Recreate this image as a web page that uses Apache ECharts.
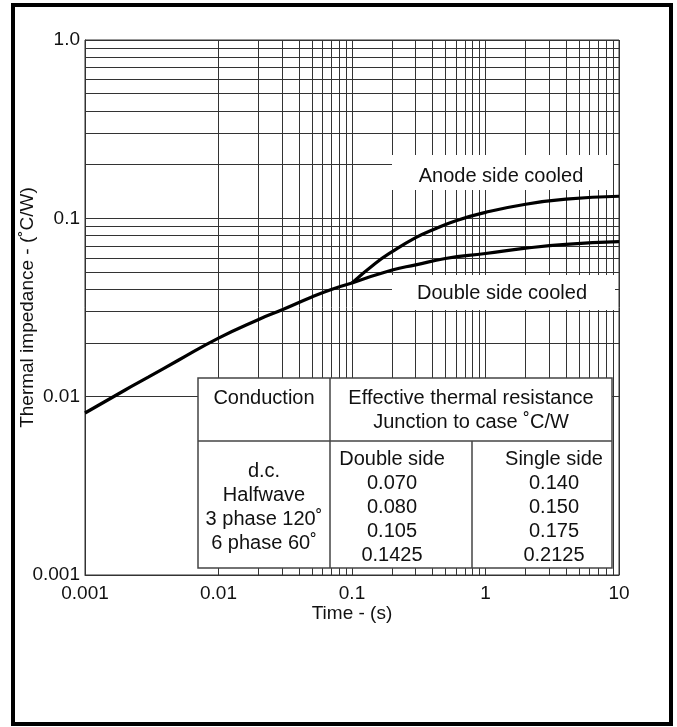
<!DOCTYPE html>
<html>
<head>
<meta charset="utf-8">
<script src="https://cdn.jsdelivr.net/npm/echarts@6/dist/echarts.min.js"></script>
<style>
  html, body { margin: 0; padding: 0; background: #fff; }
  #main { width: 677px; height: 727px; }
</style>
</head>
<body>
<div id="main"></div>
<script>
// curve below 0.1 s, shared by both cooling cases
const timeCommon = [0.001, 0.002, 0.003, 0.005, 0.01, 0.02, 0.03, 0.05, 0.07, 0.1]
const zCommon = [0.0081, 0.0109, 0.0129, 0.016, 0.0213, 0.0271, 0.0307, 0.0362, 0.0399, 0.0434]

const timeAnode = [0.1, 0.15, 0.2, 0.3, 0.4, 0.6, 1, 2, 4, 10]
const zAnode = [0.0434, 0.056, 0.065, 0.078, 0.086, 0.097, 0.108, 0.12, 0.128, 0.133]

const timeDouble = [0.1, 0.2, 0.3, 0.5, 1, 2, 4, 10]
const zDouble = [0.0434, 0.0513, 0.0548, 0.0595, 0.0635, 0.068, 0.0715, 0.074]

const xTickValues = [0.001, 0.01, 0.1, 1, 10]
const xTickLabels = ['0.001', '0.01', '0.1', '1', '10']
const yTickValues = [0.001, 0.01, 0.1, 1]
const yTickLabels = ['0.001', '0.01', '0.1', '1.0']

// minor grid lines inside each decade
const decadesX = [0.001, 0.01, 0.1, 1]
const decadesY = [0.001, 0.01, 0.1]
const minorSteps = [2, 3, 4, 5, 6, 7, 8, 9]

// table text
const tableHead = ['Conduction', 'Effective thermal resistance', 'Junction to case ˚C/W']
const conductionRows = ['d.c.', 'Halfwave', '3 phase 120˚', '6 phase 60˚']
const doubleSide = ['Double side', '0.070', '0.080', '0.105', '0.1425']
const singleSide = ['Single side', '0.140', '0.150', '0.175', '0.2125']

const pairs = (xs, ys) => xs.map((x, i) => [x, ys[i]])
const pickLabel = (vals, labels) => v => {
  const i = vals.findIndex(a => Math.abs(Math.log10(a) - Math.log10(v)) < 1e-6)
  return i < 0 ? '' : labels[i]
}

const minorX = []
decadesX.forEach(d => minorSteps.forEach(m => minorX.push({xAxis: +(d * m).toPrecision(3)})))
const minorY = []
decadesY.forEach(d => minorSteps.forEach(m => minorY.push({yAxis: +(d * m).toPrecision(3)})))

const font = 'Liberation Sans, Arial, sans-serif'
const gridColor = '#333'
const inkColor = '#111'

const curve = (name, data) => ({
  name: name,
  type: 'line',
  data: data,
  smooth: true,
  showSymbol: false,
  z: 5,
  lineStyle: {color: '#000', width: 3.2},
  animation: false
})

const txt = (text, x, y) => ({
  type: 'text',
  z: 101,
  x: x,
  y: y,
  style: {text: text, font: '20px ' + font, fill: inkColor, align: 'center', verticalAlign: 'middle'}
})
const seg = (x1, y1, x2, y2) => ({
  type: 'line',
  z: 101,
  shape: {x1: x1, y1: y1, x2: x2, y2: y2},
  style: {stroke: '#444', lineWidth: 1.5}
})
const whiteBox = (x, y, w, h) => ({
  type: 'rect',
  z: 100,
  shape: {x: x, y: y, width: w, height: h},
  style: {fill: '#fff'}
})

const tableElems = [
  {type: 'rect', z: 100, shape: {x: 198, y: 378, width: 414, height: 190},
    style: {fill: '#fff', stroke: '#444', lineWidth: 1.5}},
  seg(330, 378, 330, 568),
  seg(198, 441, 612, 441),
  seg(472, 441, 472, 568),
  txt(tableHead[0], 264, 398),
  txt(tableHead[1], 471, 398),
  txt(tableHead[2], 471, 422)
]
conductionRows.forEach((t, i) => tableElems.push(txt(t, 264, 471 + i * 24)))
doubleSide.forEach((t, i) => tableElems.push(txt(t, 392, 459 + i * 24)))
singleSide.forEach((t, i) => tableElems.push(txt(t, 554, 459 + i * 24)))

const myChart = echarts.init(document.getElementById('main'))
myChart.setOption({
  backgroundColor: '#fff',
  animation: false,
  grid: {
    left: 85,
    right: 58,
    top: 40,
    bottom: 152,
    outerBoundsMode: 'none',
    show: true,
    borderColor: gridColor,
    borderWidth: 1
  },
  xAxis: {
    type: 'log',
    logBase: 10,
    min: 0.001,
    max: 10,
    name: 'Time - (s)',
    nameLocation: 'middle',
    nameGap: 29,
    nameMoveOverlap: false,
    nameTextStyle: {fontFamily: font, fontSize: 19, color: inkColor},
    axisLine: {lineStyle: {color: gridColor}},
    axisTick: {show: false},
    axisLabel: {
      fontFamily: font, fontSize: 19, color: inkColor, margin: 9,
      formatter: pickLabel(xTickValues, xTickLabels)
    },
    splitLine: {show: true, lineStyle: {color: gridColor, width: 1}}
  },
  yAxis: {
    type: 'log',
    logBase: 10,
    min: 0.001,
    max: 1,
    name: 'Thermal impedance - (˚C/W)',
    nameLocation: 'middle',
    nameGap: 48,
    nameMoveOverlap: false,
    nameTextStyle: {fontFamily: font, fontSize: 19, color: inkColor},
    axisLine: {lineStyle: {color: gridColor}},
    axisTick: {show: false},
    axisLabel: {
      fontFamily: font, fontSize: 19, color: inkColor, margin: 5,
      padding: [0, 0, 11, 0],
      formatter: pickLabel(yTickValues, yTickLabels)
    },
    splitLine: {show: true, lineStyle: {color: gridColor, width: 1}}
  },
  series: [
    {
      name: 'grid',
      type: 'line',
      data: [],
      z: 1,
      silent: true,
      markLine: {
        silent: true,
        symbol: ['none', 'none'],
        label: {show: false},
        lineStyle: {type: 'solid', color: gridColor, width: 1},
        animation: false,
        data: minorX.concat(minorY)
      }
    },
    curve('common', pairs(timeCommon, zCommon)),
    curve('Anode side cooled', pairs(timeAnode, zAnode)),
    curve('Double side cooled', pairs(timeDouble, zDouble))
  ],
  graphic: [
    whiteBox(392, 155, 221, 35),
    txt('Anode side cooled', 501, 176),
    whiteBox(392, 275, 223, 35),
    txt('Double side cooled', 502, 293)
  ].concat(tableElems, [
    {
      type: 'rect',
      z: 100,
      shape: {x: 13, y: 5, width: 658, height: 719},
      style: {fill: null, stroke: '#000', lineWidth: 4}
    }
  ])
})
</script>
</body>
</html>
